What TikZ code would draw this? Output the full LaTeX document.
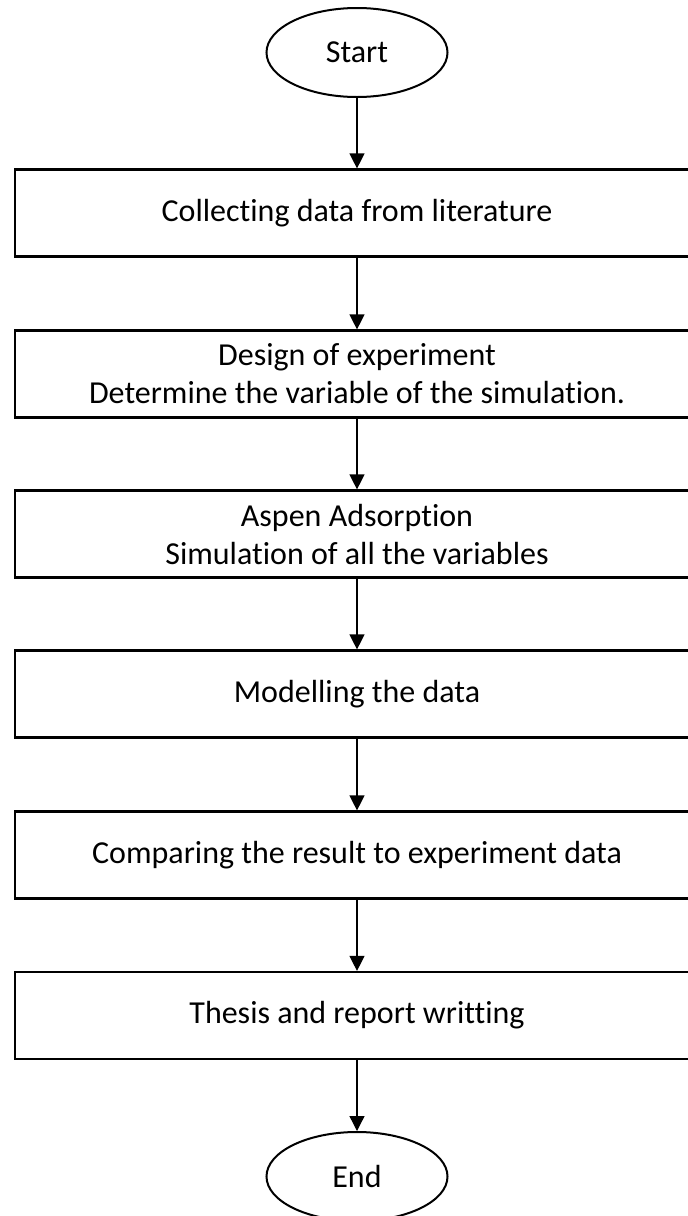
\documentclass[tikz,border=0pt]{standalone}
\usepackage{fontspec}
\setmainfont{Carlito}[Ligatures=NoCommon]
\usetikzlibrary{shapes.geometric,arrows.meta}
\begin{document}
\begin{tikzpicture}[x=1pt,y=-1pt,
  txt/.style={font=\fontsize{32}{38}\selectfont},
  stepbox/.style={txt, draw, line width=2.2pt, rectangle, minimum width=684pt,
    minimum height=87pt, inner sep=0pt, align=center},
  terminal/.style={txt, draw, line width=2pt, ellipse, minimum width=181pt,
    minimum height=89pt, inner sep=0pt},
  flow/.style={line width=1.3pt, -{Triangle[width=15pt,length=15pt]}}]
\useasboundingbox (0,0) rectangle (688,1216);

\node[terminal] (start) at (357,52.5) {Start};
\node[stepbox] (s1) at (357,213)   {Collecting data from literature};
\node[stepbox] (s2) at (357,374)   {Design of experiment\\Determine the variable of the simulation.};
\node[stepbox] (s3) at (357,534)   {Aspen Adsorption\\Simulation of all the variables};
\node[stepbox] (s4) at (357,694)   {Modelling the data};
\node[stepbox] (s5) at (357,855)   {Comparing the result to experiment data};
\node[stepbox] (s6) at (357,1015.5){Thesis and report writting};
\node[terminal] (end) at (357,1176.5) {End};

\draw[flow] (start) -- (s1);
\draw[flow] (s1) -- (s2);
\draw[flow] (s2) -- (s3);
\draw[flow] (s3) -- (s4);
\draw[flow] (s4) -- (s5);
\draw[flow] (s5) -- (s6);
\draw[flow] (s6) -- (end);
\end{tikzpicture}
\end{document}
